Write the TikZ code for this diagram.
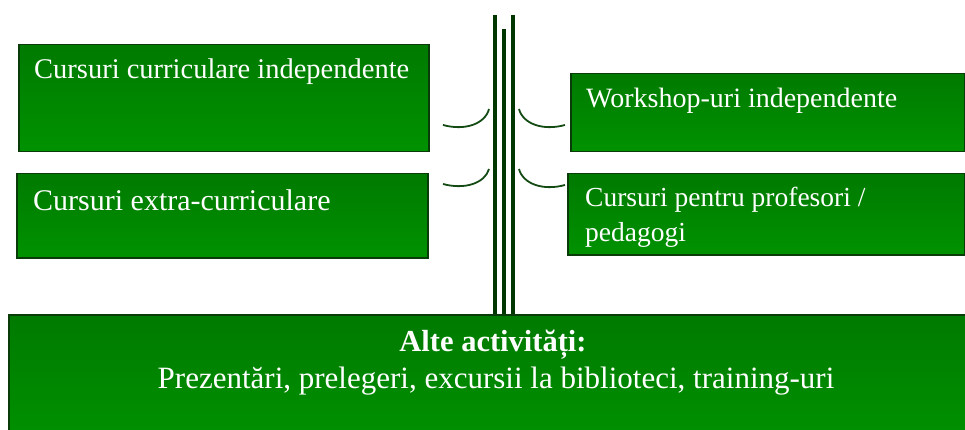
\documentclass[tikz,border=0pt]{standalone}
\usepackage{fontspec}
\setmainfont{Liberation Serif}
\definecolor{boxtop}{RGB}{0,122,0}
\definecolor{boxbot}{RGB}{0,146,0}
\definecolor{boxedge}{RGB}{10,60,10}
\definecolor{pole}{RGB}{0,55,0}
\definecolor{curve}{RGB}{20,75,20}
\tikzset{
  gbox/.style={rectangle, inner sep=0pt, top color=boxtop, bottom color=boxbot, draw=boxedge, line width=1.5pt, anchor=north west},
  lbl/.style={inner sep=0pt, anchor=base west, text=white, align=left},
  polestyle/.style={draw=pole, line width=3.5pt},
  brk/.style={draw=curve, line width=1.8pt}
}
\begin{document}
\begin{tikzpicture}[x=1pt,y=-1pt]
\useasboundingbox (0,0) rectangle (965,430);
\clip (0,0) rectangle (965,430);
% boxes
\node[gbox, minimum width=410pt, minimum height=107pt] (b1) at (18,44) {};
\node[gbox, minimum width=411pt, minimum height=84pt] (b2) at (16,173) {};
\node[gbox, minimum width=394pt, minimum height=78pt] (b3) at (570,73) {};
\node[gbox, minimum width=397pt, minimum height=81pt] (b4) at (567,173) {};
\node[gbox, minimum width=970pt, minimum height=130pt] (b5) at (8,314) {};
% texts
\node[lbl, font=\fontsize{28.5}{34}\selectfont] (t1) at (34,79) {Cursuri curriculare independente};
\node[lbl, font=\fontsize{30}{36}\selectfont] (t2) at (33,211) {Cursuri extra-curriculare};
\node[lbl, font=\fontsize{28}{34}\selectfont] (t3) at (586,108) {Workshop-uri independente};
\node[lbl, font=\fontsize{27.5}{35}\selectfont] (t4) at (585,241) {Cursuri pentru profesori /\\pedagogi};
\node[inner sep=0pt, anchor=base, text=white, font=\bfseries\fontsize{30.5}{36}\selectfont] (t5) at (493,351) {Alte activități:};
\node[inner sep=0pt, anchor=base, text=white, font=\fontsize{31}{36}\selectfont] (t6) at (496,388) {Prezentări, prelegeri, excursii la biblioteci, training-uri};
% poles
\coordinate (p1top) at (495,15);
\coordinate (p2top) at (504,29);
\coordinate (p3top) at (513,15);
\draw[polestyle] (p1top) -- (p1top |- b5.north);
\draw[polestyle] (p2top) -- (p2top |- b5.north);
\draw[polestyle] (p3top) -- (p3top |- b5.north);
% bracket curves
\coordinate (la1) at (443,125); \coordinate (lb1) at (489,109);
\coordinate (ra1) at (519,109); \coordinate (rb1) at (565,125);
\coordinate (la2) at (443,184); \coordinate (lb2) at (489,169);
\coordinate (ra2) at (519,169); \coordinate (rb2) at (565,185);
\draw[brk] (la1) .. controls (465,131) and (485,124) .. (lb1);
\draw[brk] (ra1) .. controls (523,124) and (543,131) .. (rb1);
\draw[brk] (la2) .. controls (465,190) and (485,183) .. (lb2);
\draw[brk] (ra2) .. controls (523,184) and (543,191) .. (rb2);
\end{tikzpicture}
\end{document}
